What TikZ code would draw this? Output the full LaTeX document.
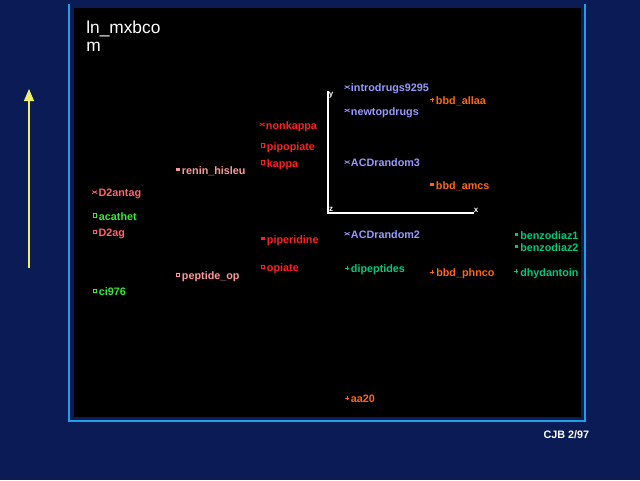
\documentclass[tikz,border=0pt]{standalone}
\usepackage{fontspec}
\setmainfont{Liberation Sans}
\usetikzlibrary{arrows.meta}
\definecolor{navy}{RGB}{10,27,85}
\definecolor{framecyan}{RGB}{32,160,224}
\definecolor{arrowyellow}{RGB}{240,240,110}
\definecolor{lav}{RGB}{153,153,255}
\definecolor{orng}{RGB}{255,102,17}
\definecolor{rred}{RGB}{255,32,32}
\definecolor{pinky}{RGB}{255,153,153}
\definecolor{salmon}{RGB}{255,102,102}
\definecolor{grn}{RGB}{51,238,51}
\definecolor{teal}{RGB}{0,200,128}
\tikzset{
  lab/.style={anchor=base west, inner sep=0pt, font=\bfseries\fontsize{8.1}{9}\selectfont},
  axlab/.style={inner sep=0pt, text=white, font=\bfseries\fontsize{6}{6}\selectfont},
  pics/mkx/.style={code={\draw[line width=0.6pt] (-2.5,-1.5)--(2.5,1.5) (-2.5,1.5)--(2.5,-1.5);}},
  pics/mksq/.style={code={\draw[line width=0.7pt] (-1.6,-1.6) rectangle (1.6,1.6);}},
  pics/mkfill/.style={code={\fill (-1.7,-1.7) rectangle (1.7,1.7);}},
  pics/mkplus/.style={code={\draw[line width=0.7pt] (-2,0)--(2,0) (0,-2)--(0,2);}},
  pics/mkdot/.style={code={\fill (-1.1,-1.1) rectangle (1.1,1.1);}},
}
\newcommand\plotlab[6]{%
  \node[lab,text=#5] (#1) at (#3,#4) {#2};
  \path (#1.base west) ++(-3.6,-4.6) pic[color=#5] {#6};
}
\begin{document}
\begin{tikzpicture}[x=0.75pt,y=-0.75pt]
\path[use as bounding box, fill=navy] (0,0) rectangle (640,480);
% frame
\coordinate (f1) at (69,4);
\coordinate (f2) at (69,421);
\coordinate (f3) at (585,421);
\coordinate (f4) at (585,4);
\draw[framecyan, line width=0.9pt] (f1) -- (f2) -- (f3) -- (f4);
\fill[black] (74,8) rectangle (581,417);
% yellow arrow
\coordinate (ab) at (29,268);
\coordinate (at) at (29,89);
\draw[arrowyellow, line width=0.8pt, -{Triangle[length=9pt,width=7.5pt]}] (ab) -- (at);
% title
\node[anchor=base west, inner sep=0pt, text=white, font=\fontsize{13}{15}\selectfont] (t1) at (86,33) {ln\_mxbco};
\node[anchor=base west, inner sep=0pt, text=white, font=\fontsize{13}{15}\selectfont] (t2) at (86,51) {m};
% axes
\coordinate (o) at (328,213);
\coordinate (ytop) at (328,91);
\coordinate (xend) at (474,213);
\draw[white, line width=0.8pt] (ytop) -- (o) -- (xend);
\node[axlab] (ly) at (331,95) {y};
\node[axlab] (lz) at (331,209.5) {z};
\node[axlab] (lx) at (476,210) {x};
% labels
\plotlab{n1}{introdrugs9295}{350.7}{91.7}{lav}{mkx}
\plotlab{n2}{bbd\_allaa}{435.7}{104.3}{orng}{mkplus}
\plotlab{n3}{newtopdrugs}{350.7}{115}{lav}{mkx}
\plotlab{n4}{nonkappa}{265.7}{129}{rred}{mkx}
\plotlab{n5}{pipopiate}{266.7}{150}{rred}{mksq}
\plotlab{n6}{kappa}{266.7}{167}{rred}{mksq}
\plotlab{n7}{renin\_hisleu}{181.7}{174}{pinky}{mkfill}
\plotlab{n8}{ACDrandom3}{350.7}{166.7}{lav}{mkx}
\plotlab{n9}{bbd\_amcs}{435.7}{189.3}{orng}{mkfill}
\plotlab{n10}{D2antag}{98.3}{196.7}{salmon}{mkx}
\plotlab{n11}{acathet}{98.7}{220}{grn}{mksq}
\plotlab{n12}{D2ag}{98.3}{236.7}{salmon}{mksq}
\plotlab{n13}{piperidine}{266.7}{243.3}{rred}{mkfill}
\plotlab{n14}{ACDrandom2}{350.7}{238.3}{lav}{mkx}
\plotlab{n15}{benzodiaz1}{520}{239}{teal}{mkdot}
\plotlab{n16}{benzodiaz2}{520}{251}{teal}{mkdot}
\plotlab{n17}{opiate}{266.7}{271.7}{rred}{mksq}
\plotlab{n18}{dipeptides}{350.7}{272.7}{teal}{mkplus}
\plotlab{n19}{bbd\_phnco}{436}{276.7}{orng}{mkplus}
\plotlab{n20}{dhydantoin}{520}{276}{teal}{mkplus}
\plotlab{n21}{peptide\_op}{181.7}{279.3}{pinky}{mksq}
\plotlab{n22}{ci976}{98.7}{295.7}{grn}{mksq}
\plotlab{n23}{aa20}{350.7}{402.7}{orng}{mkplus}
% footer
\node[lab, text=white] (cjb) at (543.3,438.3) {CJB 2/97};
\end{tikzpicture}
\end{document}
